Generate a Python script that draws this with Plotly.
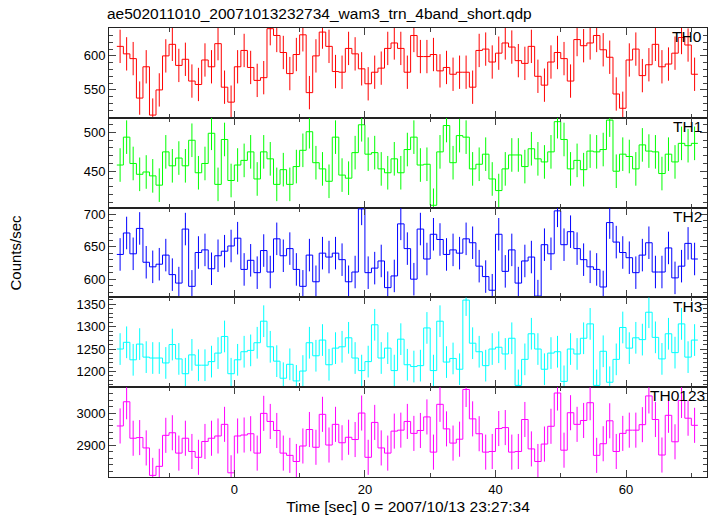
import numpy as np
import plotly.graph_objects as go
from plotly.subplots import make_subplots

# time bins (1 s bins, first bin starts at t=-18 s)
t_start = -18.0
bin_width = 1.0

th0 = [614, 603, 596, 538, 584, 513, 550, 600, 617, 586, 595, 563, 558, 594, 584, 618, 554, 532, 584, 608,
       583, 564, 568, 640, 630, 605, 574, 602, 631, 546, 600, 635, 614, 577, 576, 611, 603, 581, 559, 576,
       582, 611, 619, 611, 576, 630,
       599, 599, 602, 578, 583, 573, 576, 576, 554, 608, 610, 591, 604, 619, 613, 593, 589, 614, 570, 557,
       591, 605, 596, 563, 624, 615, 619, 630, 609, 598, 544, 523, 594, 610, 571, 587, 617, 584, 588, 604,
       627, 616, 573]
th1 = [458, 494, 460, 446, 449, 444, 432, 475, 457, 467, 457, 490, 448, 460, 499, 433, 491, 438, 458, 464,
       475, 440, 475, 466, 433, 452, 433, 456, 477, 501, 461, 453, 437, 494, 445, 441, 474, 510, 472, 474,
       453, 448, 466, 448, 478, 494,
       458, 459, 406, 475, 509, 461, 496, 494, 453, 459, 472, 440, 425, 453, 471, 471, 456, 479, 466, 462,
       475, 514, 491, 453, 464, 452, 476, 475, 478, 516, 450, 472, 469, 453, 484, 476, 475, 447, 472, 462,
       486, 483, 486]
th2 = [638, 671, 639, 678, 626, 619, 623, 637, 607, 594, 677, 589, 641, 645, 616, 636, 643, 651, 663, 615,
       629, 610, 644, 611, 662, 636, 647, 615, 589, 637, 596, 640, 634, 640, 630, 596, 611, 708, 610, 617,
       628, 587, 605, 685, 647, 600,
       677, 631, 669, 661, 638, 645, 640, 662, 656, 620, 604, 583, 669, 612, 645, 594, 628, 634, 574, 653,
       639, 705, 653, 673, 647, 630, 619, 615, 588, 687, 657, 641, 633, 610, 637, 656, 611, 611, 648, 602,
       620, 655, 631]
th3 = [1250, 1265, 1226, 1261, 1232, 1230, 1230, 1219, 1260, 1228, 1195, 1237, 1214, 1214, 1222, 1241, 1278,
       1195, 1226, 1244, 1247, 1264, 1312, 1255, 1223, 1185, 1216, 1179, 1201, 1264, 1235, 1270, 1215, 1252,
       1255, 1275, 1230, 1202, 1222, 1304, 1230, 1252, 1202, 1272, 1215, 1211,
       1213, 1297, 1202, 1312, 1221, 1229, 1205, 1359, 1263, 1244, 1213, 1250, 1254, 1239, 1274, 1169, 1227,
       1284, 1250, 1205, 1241, 1244, 1178, 1250, 1239, 1274, 1306, 1169, 1245, 1176, 1227, 1298, 1252, 1275,
       1271, 1332, 1276, 1228, 1284, 1242, 1306, 1232, 1270]
th0123 = [2960, 3035, 2922, 2924, 2892, 2807, 2835, 2931, 2939, 2876, 2922, 2881, 2863, 2912, 2922, 2929,
          2965, 2815, 2929, 2932, 2936, 2876, 2999, 2974, 2946, 2876, 2869, 2850, 2898, 2949, 2894, 2996,
          2901, 2965, 2908, 2925, 2918, 3000, 2863, 2971, 2892, 2876, 2944, 2947, 2974, 2937,
          2946, 2988, 2879, 3027, 2951, 2907, 2919, 3073, 2982, 2936, 2879, 2881, 2952, 2955, 2879, 2881,
          2980, 2889, 2850, 2904, 2959, 3062, 2885, 3001, 2965, 2977, 3032, 2869, 2905, 2976, 2881, 2937,
          2947, 2947, 2964, 3053, 2980, 2870, 2993, 2911, 3039, 2984, 2962]

names = ["TH0", "TH1", "TH2", "TH3", "TH0123"]
series = [th0, th1, th2, th3, th0123]
errors = [24.5, 21.7, 25.0, 35.3, 54.3]  # typical 1-sigma error per bin
colors = ["#ff0000", "#00ff00", "#0000ff", "#00ffff", "#ff00ff"]
y_ranges = [[509, 641], [403, 519], [572, 710], [1165, 1365], [2802, 3080]]
y_dticks = [50, 50, 50, 50, 100]
y_minor = [10, 10, 10, 10, 20]
x_range = [-19.2, 72.4]

FONT = "Liberation Sans, Arial, sans-serif"
L, R, T, B, W, H = 109, 10, 28, 39, 717, 516

fig = make_subplots(rows=5, cols=1, shared_xaxes=True, vertical_spacing=0)

for k, (vals, col, err) in enumerate(zip(series, colors, errors)):
    n = len(vals)
    edges = t_start + bin_width * np.arange(n + 1)
    centers = t_start + bin_width * (np.arange(n) + 0.5)
    fig.add_trace(go.Scatter(x=centers, y=vals, mode="markers",
                             marker=dict(size=0.1, color=col, opacity=0),
                             error_y=dict(type="constant", value=err, width=0,
                                          thickness=1, color=col),
                             hoverinfo="skip", showlegend=False), row=k + 1, col=1)
    fig.add_trace(go.Scatter(x=edges, y=list(vals) + [vals[-1]], mode="lines",
                             line=dict(shape="hv", color=col, width=1),
                             showlegend=False), row=k + 1, col=1)

axis_common = dict(showline=True, linecolor="#222222", linewidth=1, mirror="ticks",
                   ticks="inside", tickcolor="#444444", showgrid=False, zeroline=False,
                   automargin=False,
                   tickfont=dict(family=FONT, size=13, color="black"))

for k in range(5):
    fig.update_yaxes(range=y_ranges[k], dtick=y_dticks[k], ticklen=7, tickwidth=1,
                     minor=dict(dtick=y_minor[k], ticklen=4, ticks="inside", tickcolor="#444444"),
                     row=k + 1, col=1, **axis_common)
    fig.update_xaxes(range=x_range, dtick=20, tick0=0, ticklen=7, tickwidth=1,
                     minor=dict(dtick=10, ticklen=4, ticks="inside", tickcolor="#444444"),
                     showticklabels=(k == 4), row=k + 1, col=1, **axis_common)

for k, name in enumerate(names):
    yref = "y domain" if k == 0 else f"y{k + 1} domain"
    xref = "x domain" if k == 0 else f"x{k + 1} domain"
    fig.add_annotation(x=0.995 if k < 4 else 1.0, y=1.02, xref=xref, yref=yref, text=name,
                       showarrow=False, xanchor="right", yanchor="top",
                       font=dict(family=FONT, size=15.5, color="black"))

fig.update_xaxes(title=dict(text="Time [sec] 0 = 2007/10/13 23:27:34", standoff=5,
                            font=dict(family=FONT, size=15.5, color="black")),
                 row=5, col=1)
fig.add_annotation(x=(15 - L) / (W - L - R), y=0.5, xref="paper", yref="paper", text="Counts/sec",
                   textangle=-90, showarrow=False, xanchor="center",
                   font=dict(family=FONT, size=15, color="black"))

fig.update_layout(
    width=W, height=H,
    margin=dict(l=L, r=R, t=T, b=B),
    paper_bgcolor="white", plot_bgcolor="white",
    title=dict(text="ae502011010_20071013232734_wam3_trn_4band_short.qdp",
               x=107 / W, xanchor="left", y=1 - 14 / H, yanchor="middle",
               font=dict(family=FONT, size=15.5, color="black")),
)

fig.write_html("out.html", config={"displayModeBar": False},
               post_script="document.body.style.margin='0px';")
